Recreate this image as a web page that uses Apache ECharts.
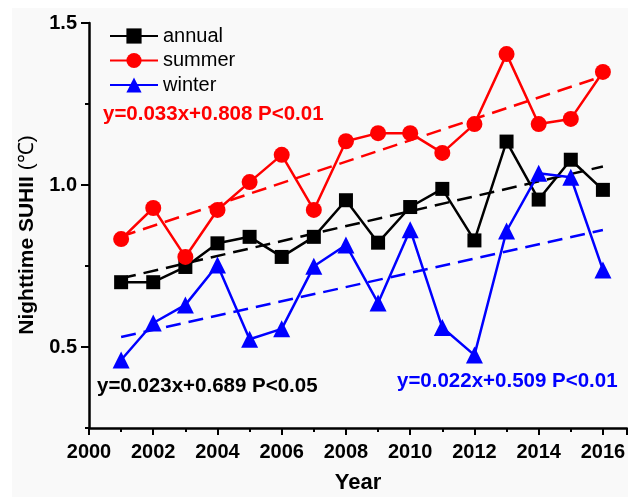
<!DOCTYPE html>
<html>
<head>
<meta charset="utf-8">
<script src="https://cdn.jsdelivr.net/npm/echarts@6/dist/echarts.min.js"></script>
<style>
html,body{margin:0;padding:0;background:#ffffff;}
#chart{width:628px;height:497px;}
</style>
</head>
<body>
<div id="chart"></div>
<script>
const years = [2001,2002,2003,2004,2005,2006,2007,2008,2009,2010,2011,2012,2013,2014,2015,2016];
const annual = [0.70,0.70,0.747,0.82,0.84,0.778,0.84,0.953,0.822,0.932,0.988,0.829,1.134,0.955,1.078,0.985];
const summer = [0.833,0.929,0.778,0.923,1.009,1.093,0.923,1.135,1.160,1.160,1.099,1.188,1.404,1.188,1.204,1.349];
const winter = [0.46,0.574,0.630,0.753,0.524,0.556,0.749,0.815,0.636,0.862,0.560,0.475,0.858,1.036,1.024,0.738];
const trendYears = [2001, 2016];
const annualTrend = [0.712, 1.057];
const summerTrend = [0.841, 1.336];
const winterTrend = [0.531, 0.861];
const yTickLabels = [0.5, 1.0, 1.5];
const yMinorTicks = [0.25, 0.75, 1.25];
const eqAnnual = 'y=0.023x+0.689 P<0.05';
const eqSummer = 'y=0.033x+0.808 P<0.01';
const eqWinter = 'y=0.022x+0.509 P<0.01';
const yTitleMain = 'Nighttime SUHII ';
const yTitleUnit = '(℃)';

const pair = (xs, ys) => xs.map((x, i) => [x, ys[i]]);
const FONT = '"Liberation Sans", Arial, sans-serif';

const chart = echarts.init(document.getElementById('chart'), null, {renderer: 'canvas'});

function trend(name, data, color) {
  return {
    name: name, type: 'line', data: pair(trendYears, data),
    symbol: 'none', silent: true, z: 1,
    lineStyle: {color: color, width: 2.5, type: [15, 8]}
  };
}
function main(name, data, color, symbol, size) {
  return {
    name: name, type: 'line', data: pair(years, data),
    symbol: symbol, symbolSize: size, z: 3,
    itemStyle: {color: color},
    lineStyle: {color: color, width: 2.5}
  };
}

chart.setOption({
  animation: false,
  backgroundColor: '#ffffff',
  textStyle: {fontFamily: FONT},
  graphic: [
    {type: 'rect', z: -10, shape: {x: 12, y: 8, width: 620, height: 500}, style: {fill: '#f9f9f9'}},
    {type: 'text', z: 10, left: 103, top: 104, style: {text: eqSummer, fill: '#ff0000', font: 'bold 20.5px ' + FONT}},
    {type: 'text', z: 10, left: 97, top: 376, style: {text: eqAnnual, fill: '#000000', font: 'bold 20.5px ' + FONT}},
    {type: 'text', z: 10, left: 397, top: 371, style: {text: eqWinter, fill: '#0000ff', font: 'bold 20.5px ' + FONT}},
    {type: 'text', z: 10, x: 27, y: 235, rotation: Math.PI / 2,
      style: {
        text: '{b|' + yTitleMain + '}{r|' + yTitleUnit + '}',
        align: 'center', verticalAlign: 'middle',
        rich: {
          b: {fontSize: 21, fontWeight: 'bold', fill: '#000', fontFamily: FONT},
          r: {fontSize: 21, fontWeight: 'normal', fill: '#000', fontFamily: FONT}
        }
      }}
  ],
  grid: {left: 89, right: 1, top: 23, bottom: 69, containLabel: false, outerBoundsMode: 'none'},
  legend: {
    data: ['annual', 'summer', 'winter'],
    orient: 'vertical', left: 104, top: 21,
    itemWidth: 48, itemHeight: 19, itemGap: 4.5,
    textStyle: {fontSize: 20, color: '#000', fontFamily: FONT}
  },
  xAxis: {
    type: 'value', min: 2000, max: 2016.75, interval: 2,
    axisLine: {lineStyle: {color: '#000', width: 2.5}},
    axisTick: {length: 7, lineStyle: {color: '#000', width: 2}},
    minorTick: {show: true, splitNumber: 2, length: 4, lineStyle: {color: '#000', width: 2}},
    splitLine: {show: false},
    axisLabel: {
      fontSize: 20, fontWeight: 'bold', color: '#000', margin: 14, fontFamily: FONT,
      formatter: v => (v <= 2016 ? String(v) : '')
    },
    name: 'Year', nameLocation: 'middle', nameGap: 44,
    nameTextStyle: {fontSize: 22, fontWeight: 'bold', color: '#000', fontFamily: FONT}
  },
  yAxis: [{
    type: 'value', min: 0.25, max: 1.5,
    axisLine: {show: true, lineStyle: {color: '#000', width: 2.5}},
    axisTick: {show: true, length: 8, customValues: yTickLabels, lineStyle: {color: '#000', width: 2}},
    splitLine: {show: false},
    axisLabel: {
      customValues: yTickLabels,
      fontSize: 20, fontWeight: 'bold', color: '#000', margin: 12, fontFamily: FONT,
      formatter: v => v.toFixed(1)
    }
  }, {
    type: 'value', min: 0.25, max: 1.5, position: 'left',
    axisLine: {show: false},
    axisTick: {show: true, length: 4, customValues: yMinorTicks, lineStyle: {color: '#000', width: 2}},
    axisLabel: {show: false},
    splitLine: {show: false}
  }],
  series: [
    trend('annualTrend', annualTrend, '#000000'),
    trend('summerTrend', summerTrend, '#ff0000'),
    trend('winterTrend', winterTrend, '#0000ff'),
    main('annual', annual, '#000000', 'rect', 14),
    main('summer', summer, '#ff0000', 'circle', 16),
    main('winter', winter, '#0000ff', 'triangle', 17)
  ]
});
</script>
</body>
</html>
